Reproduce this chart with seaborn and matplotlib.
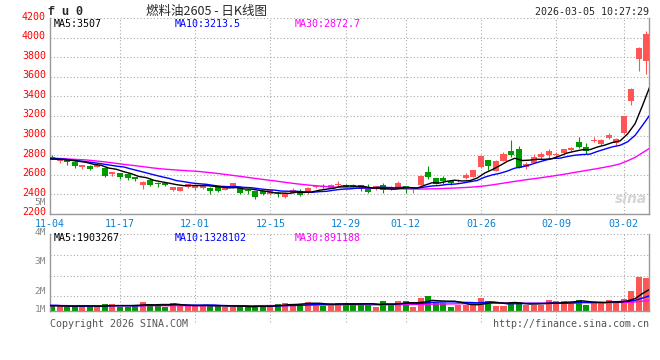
import matplotlib
matplotlib.use('Agg')
import matplotlib.pyplot as plt
from matplotlib.transforms import ScaledTranslation
import numpy as np
import pandas as pd
import seaborn as sns

# 燃料油2605 日K, 80 trading days from 2025-11-04 to 2026-03-05
opens = [2772, 2735, 2749, 2732, 2680, 2690, 2682, 2673, 2605, 2615,
         2612, 2575, 2500, 2548, 2518, 2516, 2440, 2434, 2476, 2468,
         2462, 2468, 2471, 2445, 2468, 2471, 2448, 2434, 2431, 2400,
         2418, 2377, 2414, 2437, 2410, 2472, 2485, 2468, 2493, 2498,
         2498, 2490, 2470, 2450, 2490, 2463, 2463, 2483, 2452, 2493,
         2626, 2565, 2565, 2538, 2532, 2565, 2578, 2680, 2748, 2640,
         2742, 2845, 2858, 2678, 2720, 2780, 2800, 2797, 2820, 2852,
         2932, 2888, 2940, 2912, 2970, 2922, 3024, 3356, 3786, 3766]
highs = [2800, 2752, 2752, 2735, 2703, 2695, 2705, 2678, 2632, 2620,
         2618, 2580, 2533, 2564, 2522, 2522, 2478, 2477, 2504, 2502,
         2508, 2472, 2475, 2485, 2517, 2485, 2452, 2438, 2435, 2458,
         2422, 2427, 2461, 2454, 2470, 2490, 2502, 2502, 2535, 2508,
         2510, 2495, 2504, 2486, 2517, 2483, 2534, 2486, 2460, 2595,
         2687, 2568, 2585, 2551, 2558, 2619, 2650, 2799, 2752, 2752,
         2830, 2958, 2898, 2732, 2807, 2830, 2858, 2834, 2862, 2888,
         2983, 2922, 2990, 2966, 3024, 2976, 3200, 3485, 3900, 4068]
lows = [2762, 2715, 2704, 2673, 2663, 2646, 2675, 2580, 2590, 2560,
        2545, 2533, 2455, 2486, 2475, 2488, 2436, 2432, 2460, 2448,
        2458, 2400, 2420, 2442, 2465, 2400, 2404, 2356, 2390, 2396,
        2376, 2366, 2410, 2380, 2408, 2468, 2468, 2465, 2471, 2468,
        2465, 2430, 2415, 2446, 2415, 2446, 2460, 2415, 2418, 2490,
        2558, 2506, 2510, 2497, 2530, 2555, 2575, 2673, 2646, 2636,
        2740, 2780, 2668, 2654, 2715, 2756, 2766, 2773, 2810, 2840,
        2868, 2813, 2930, 2908, 2960, 2902, 3020, 3315, 3654, 3630]
closes = [2768, 2750, 2725, 2690, 2700, 2663, 2700, 2588, 2628, 2578,
          2562, 2552, 2530, 2493, 2502, 2494, 2475, 2475, 2502, 2498,
          2495, 2438, 2437, 2461, 2515, 2418, 2432, 2377, 2408, 2444,
          2402, 2413, 2444, 2394, 2468, 2485, 2472, 2498, 2497, 2472,
          2472, 2458, 2424, 2483, 2443, 2450, 2517, 2450, 2456, 2585,
          2580, 2510, 2532, 2512, 2544, 2595, 2646, 2789, 2688, 2742,
          2816, 2805, 2672, 2712, 2783, 2813, 2840, 2815, 2858, 2875,
          2888, 2842, 2952, 2956, 3007, 2969, 3197, 3478, 3895, 4037]
# volume, million lots
volumes = [0.42, 0.54, 0.36, 0.54, 0.36, 0.36, 0.36, 0.62, 0.62, 0.36,
           0.36, 0.54, 0.80, 0.60, 0.51, 0.36, 0.71, 0.42, 0.42, 0.42,
           0.42, 0.54, 0.42, 0.36, 0.36, 0.36, 0.36, 0.54, 0.36, 0.54,
           0.62, 0.71, 0.62, 0.62, 0.80, 0.60, 0.42, 0.51, 0.71, 0.71,
           0.60, 0.60, 0.54, 0.36, 0.88, 0.60, 0.88, 0.88, 0.36, 1.14,
           1.31, 0.71, 0.71, 0.36, 0.54, 0.54, 0.54, 1.14, 0.88, 0.42,
           0.42, 0.80, 0.80, 0.54, 0.54, 0.54, 0.97, 0.88, 0.88, 0.71,
           0.97, 0.54, 0.71, 0.71, 0.97, 0.88, 1.06, 1.75, 2.96, 2.87]

# moving-average lines as drawn, first value is the day before 11-04
ma5 = [2760, 2758, 2755, 2747, 2737, 2726, 2706, 2696, 2668, 2656, 2631,
       2611, 2582, 2570, 2543, 2528, 2514, 2499, 2488, 2490, 2489,
       2489, 2482, 2474, 2466, 2469, 2454, 2453, 2441, 2430, 2416,
       2413, 2409, 2422, 2419, 2424, 2441, 2453, 2463, 2484, 2485,
       2482, 2479, 2465, 2462, 2456, 2452, 2463, 2469, 2463, 2492,
       2518, 2516, 2533, 2544, 2536, 2539, 2566, 2617, 2652, 2692,
       2736, 2768, 2745, 2749, 2758, 2757, 2764, 2793, 2822, 2840,
       2855, 2856, 2883, 2903, 2929, 2945, 3016, 3121, 3309, 3507]
ma10 = [2767, 2765, 2759, 2751, 2742, 2733, 2723, 2712, 2700, 2688, 2679,
        2658, 2639, 2619, 2599, 2580, 2563, 2540, 2529, 2516, 2508,
        2502, 2490, 2481, 2478, 2479, 2471, 2467, 2457, 2448, 2443,
        2433, 2431, 2431, 2425, 2420, 2427, 2431, 2443, 2452, 2455,
        2462, 2466, 2464, 2473, 2470, 2467, 2471, 2467, 2463, 2474,
        2485, 2490, 2501, 2504, 2514, 2528, 2541, 2575, 2598, 2614,
        2637, 2667, 2681, 2701, 2725, 2747, 2766, 2769, 2786, 2799,
        2806, 2810, 2838, 2862, 2885, 2900, 2936, 3002, 3106, 3214]
ma30 = [2768, 2767, 2764, 2759, 2755, 2751, 2743, 2735, 2726, 2716, 2706,
        2697, 2688, 2678, 2668, 2660, 2654, 2648, 2643, 2638, 2633,
        2625, 2617, 2608, 2598, 2588, 2578, 2567, 2557, 2547, 2538,
        2527, 2517, 2507, 2499, 2491, 2485, 2479, 2474, 2470, 2467,
        2465, 2463, 2461, 2459, 2457, 2456, 2455, 2454, 2454, 2454,
        2456, 2458, 2461, 2464, 2468, 2472, 2478, 2486, 2496, 2508,
        2520, 2532, 2543, 2554, 2564, 2575, 2586, 2598, 2610, 2624,
        2637, 2650, 2663, 2677, 2692, 2711, 2742, 2777, 2825, 2873]
vol_ma5 = [0.45, 0.45, 0.43, 0.42, 0.43, 0.44, 0.43, 0.40, 0.45, 0.47, 0.47,
           0.47, 0.50, 0.54, 0.53, 0.56, 0.56, 0.60, 0.52, 0.48, 0.47,
           0.48, 0.45, 0.45, 0.43, 0.42, 0.41, 0.37, 0.40, 0.40, 0.43,
           0.48, 0.55, 0.57, 0.62, 0.67, 0.67, 0.61, 0.59, 0.61, 0.59,
           0.59, 0.62, 0.63, 0.56, 0.60, 0.60, 0.65, 0.72, 0.72, 0.77,
           0.92, 0.88, 0.85, 0.85, 0.73, 0.57, 0.54, 0.62, 0.73, 0.70,
           0.68, 0.74, 0.67, 0.60, 0.61, 0.64, 0.67, 0.69, 0.76, 0.80,
           0.88, 0.80, 0.76, 0.73, 0.78, 0.76, 0.87, 1.07, 1.52, 1.90]
vol_ma10 = [0.49, 0.49, 0.45, 0.42, 0.41, 0.41, 0.42, 0.43, 0.45, 0.45, 0.46,
            0.45, 0.45, 0.49, 0.50, 0.51, 0.51, 0.54, 0.53, 0.51, 0.51,
            0.52, 0.52, 0.48, 0.46, 0.45, 0.45, 0.41, 0.42, 0.42, 0.42,
            0.45, 0.47, 0.48, 0.51, 0.55, 0.58, 0.58, 0.58, 0.61, 0.63,
            0.63, 0.62, 0.61, 0.58, 0.59, 0.59, 0.64, 0.67, 0.64, 0.68,
            0.75, 0.77, 0.79, 0.79, 0.75, 0.74, 0.71, 0.74, 0.79, 0.72,
            0.62, 0.63, 0.64, 0.66, 0.66, 0.66, 0.70, 0.67, 0.67, 0.71,
            0.76, 0.74, 0.73, 0.74, 0.79, 0.82, 0.83, 0.92, 1.12, 1.33]
vol_ma30 = [0.47, 0.47, 0.47, 0.46, 0.46, 0.46, 0.46, 0.46, 0.46, 0.46,
            0.46, 0.46, 0.46, 0.46, 0.46, 0.46, 0.46, 0.46, 0.46, 0.46,
            0.46, 0.46, 0.46, 0.46, 0.46, 0.46, 0.46, 0.46, 0.46, 0.47,
            0.47, 0.48, 0.48, 0.49, 0.49, 0.50, 0.51, 0.51, 0.52, 0.52,
            0.53, 0.53, 0.53, 0.53, 0.53, 0.53, 0.54, 0.55, 0.56, 0.57,
            0.58, 0.59, 0.60, 0.61, 0.62, 0.63, 0.64, 0.65, 0.66, 0.67,
            0.68, 0.68, 0.68, 0.67, 0.67, 0.67, 0.68, 0.68, 0.69, 0.69,
            0.70, 0.71, 0.71, 0.72, 0.72, 0.73, 0.74, 0.75, 0.78, 0.86, 0.89]

tick_days = [0, 9, 19, 29, 39, 47, 57, 67, 76]
tick_labels = ['11-04', '11-17', '12-01', '12-15', '12-29', '01-12', '01-26', '02-09', '03-02']
price_ticks = [2200, 2400, 2600, 2800, 3000, 3200, 3400, 3600, 3800, 4000, 4200]
vol_tick_labels = ['5M', '4M', '3M', '2M', '1M']
price_ma_labels = ['MA5:3507', 'MA10:3213.5', 'MA30:2872.7']
vol_ma_labels = ['MA5:1903267', 'MA10:1328102', 'MA30:891188']

RED = '#ff5555'
GREEN = '#009a00'
BLUE = '#0000ff'
MAGENTA = '#ff00ff'
GRID = '#aaaaaa'
SPINE = '#999999'
DATE_BLUE = '#0a80d2'
DOTS = (0, (1, 2))

sns.set_style('white')
plt.rcParams['font.family'] = ['DejaVu Sans Mono', 'Noto Sans CJK SC']

W, H = 660, 360
fig = plt.figure(figsize=(W / 100, H / 100), dpi=100)


def fx(x):
    return x / W


def fy(y):
    return 1 - y / H


ax = fig.add_axes([fx(50), fy(213.9), (649.3 - 50) / W, (213.9 - 18) / H])
axv = fig.add_axes([fx(50), fy(311), (649.3 - 50) / W, (311 - 234) / H])
XLIM = (-0.31, 79.39)
VOL_TOP = 6.66

days = np.arange(len(closes))
o, hi, lo, c = (np.array(a, dtype=float) for a in (opens, highs, lows, closes))
col = np.where(c >= o, RED, GREEN)

# price panel
for y in price_ticks:
    ax.axhline(y, color=GRID, lw=0.8, ls=DOTS, zorder=0)
ax.vlines(tick_days[1:], 2200, 4200, colors=GRID, lw=0.8, linestyles=DOTS, zorder=0)
ax.vlines(days, lo, hi, colors=col, lw=0.8, zorder=2)
ax.bar(days, np.maximum(np.abs(c - o), 8), bottom=np.minimum(o, c), width=0.8,
       color=col, linewidth=0, zorder=3)

ma_df = pd.DataFrame({'x': np.arange(len(ma5)) - 0.5, 'MA5': ma5, 'MA10': ma10, 'MA30': ma30,
                      'V5': vol_ma5, 'V10': vol_ma10, 'V30': vol_ma30})
for name, colr in [('MA30', MAGENTA), ('MA10', BLUE), ('MA5', 'black')]:
    sns.lineplot(data=ma_df, x='x', y=name, ax=ax, color=colr, linewidth=1.0, zorder=4)

ax.set_xlim(*XLIM)
ax.set_ylim(2200, 4200)
ax.set_yticks(price_ticks)
ax.set_yticklabels([str(t) for t in price_ticks])
ax.tick_params(axis='y', length=0, pad=2.9, labelcolor='red', labelsize=7.2)
ax.set_xticks(tick_days)
ax.set_xticklabels(tick_labels)
ax.tick_params(axis='x', length=0, pad=3.4, labelcolor=DATE_BLUE, labelsize=7.2)
ax.set_xlabel('')
ax.set_ylabel('')
# sina draws the price numbers a couple of pixels above their grid lines
lift = ScaledTranslation(0, 2.5 / 100, fig.dpi_scale_trans)
for lab in ax.get_yticklabels():
    lab.set_transform(lab.get_transform() + lift)
# first date label sits a little left of the first candle
nudge = ScaledTranslation(-2.5 / 100, 0, fig.dpi_scale_trans)
first = ax.get_xticklabels()[0]
first.set_transform(first.get_transform() + nudge)

# volume panel
for f in (0.195, 0.455, 0.727, 1.0):
    axv.axhline(f * VOL_TOP, color=GRID, lw=0.8, ls=DOTS, zorder=0)
axv.vlines(tick_days[1:], -0.95, VOL_TOP, colors=GRID, lw=0.8, linestyles=DOTS,
           zorder=0, clip_on=False)
axv.bar(days, volumes, width=0.8, color=col, linewidth=0, zorder=2)
for name, colr in [('V30', MAGENTA), ('V10', BLUE), ('V5', 'black')]:
    sns.lineplot(data=ma_df, x='x', y=name, ax=axv, color=colr, linewidth=1.0, zorder=4)
axv.set_xlim(*XLIM)
axv.set_ylim(0, VOL_TOP)
axv.set_xticks([])
axv.set_yticks([])
axv.set_xlabel('')
axv.set_ylabel('')

for a in (ax, axv):
    a.spines['top'].set_visible(False)
    for s in ('left', 'right', 'bottom'):
        a.spines[s].set_color(SPINE)
        a.spines[s].set_linewidth(1.0)

# volume scale labels (sina places them on its own grid)
for lab, y in zip(vol_tick_labels, [202.5, 232.5, 261, 291, 310]):
    fig.text(fx(46), fy(y), lab, ha='right', va='center', color='#888888', fontsize=6.8)

# header texts
fig.text(fx(48), fy(12), 'f u 0', ha='left', va='center', fontsize=8.5,
         fontweight='bold', family=['Liberation Mono', 'DejaVu Sans Mono'])
fig.text(fx(207), fy(12), '燃料油2605 - 日K线图', ha='center', va='center', fontsize=9,
         family=['Noto Sans CJK SC', 'DejaVu Sans'])
fig.text(fx(649), fy(12), '2026-03-05 10:27:29', ha='right', va='center', fontsize=7.2)

for lab, x, colr in zip(price_ma_labels, [54, 175, 295], ['black', BLUE, MAGENTA]):
    fig.text(fx(x), fy(24), lab, ha='left', va='center', color=colr, fontsize=7.2)
for lab, x, colr in zip(vol_ma_labels, [54, 175, 295], ['black', BLUE, MAGENTA]):
    fig.text(fx(x), fy(238), lab, ha='left', va='center', color=colr, fontsize=7.2)

fig.text(fx(50), fy(324), 'Copyright 2026 SINA.COM', ha='left', va='center',
         color='#555555', fontsize=7.2)
fig.text(fx(649), fy(324), 'http://finance.sina.com.cn', ha='right', va='center',
         color='#555555', fontsize=7.2)
fig.text(fx(647), fy(199), 'sina', ha='right', va='center', color='#d5d5d5', fontsize=10,
         fontstyle='italic', fontweight='bold', family=['DejaVu Sans'])

fig.savefig('out.png', dpi=100)
